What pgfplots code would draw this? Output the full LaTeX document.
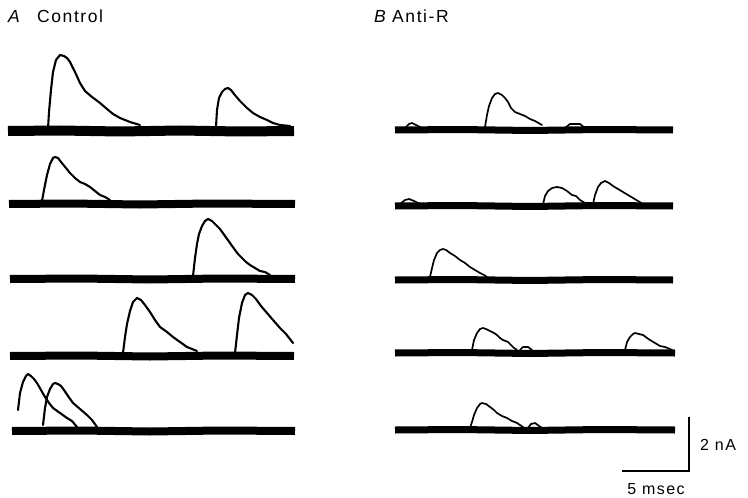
\documentclass[border=0pt]{standalone}
\usepackage{pgfplots}
\pgfplotsset{compat=1.18}
\usepackage{fontspec}
\setmainfont{Liberation Sans}
\newfontfamily\lab{Liberation Sans}[LetterSpace=9]
\newfontfamily\labit{Liberation Sans}[LetterSpace=9,UprightFont=* Italic]
\begin{document}
\begin{tikzpicture}
\begin{axis}[width=748bp,height=498bp,scale only axis,
  xmin=0,xmax=748,ymin=0,ymax=498,y dir=reverse,hide axis,clip=false,
  base/.style={black,line width=8bp,line cap=butt,no marks},
  baseR/.style={black,line width=7bp,line cap=butt,no marks},
  ep/.style={black,line width=2.1bp,line join=round,line cap=round,no marks},
  epR/.style={black,line width=1.7bp,line join=round,line cap=round,no marks}]
\path (axis cs:0,0) rectangle (axis cs:748,498);
% ---------- Panel A ----------
\addplot[base,line width=10bp] coordinates {(8,131) (60,130.5) (120,131.5) (180,130.5) (240,131.5) (294,131)};
\addplot[ep] coordinates {(48,129) (49,112) (51,90) (53,72) (56,60) (60,55) (64,56) (67,58) (70,62) (75,72) (80,83) (85,91) (92,97) (100,103) (107,109) (113,114) (120,118) (130,122) (140,125)};
\addplot[ep] coordinates {(216,127) (217,110) (219,98) (222,92) (225,89) (228,88) (231,90) (234,94) (240,101) (247,108) (253,113) (260,117) (267,120) (273,123) (280,125) (290,126)};
\addplot[base] coordinates {(9,204) (70,203.5) (140,204.5) (210,203.5) (295,204)};
\addplot[ep] coordinates {(42,201) (44,190) (47,175) (50,164) (53,158) (55,157) (58,158) (61,162) (66,168) (70,173) (75,178) (80,182) (85,184) (90,187) (95,191) (100,195) (105,197) (110,200)};
\addplot[base] coordinates {(10,279) (80,278.5) (150,279.5) (220,278.5) (295,279)};
\addplot[ep] coordinates {(193,276) (195,258) (197,244) (199,234) (202,226) (205,221) (208,219) (212,221) (216,225) (220,229) (225,236) (230,243) (235,250) (238,254) (242,258) (246,262) (250,265) (255,268) (260,271) (265,272) (270,275)};
\addplot[base] coordinates {(10,356) (80,355.5) (150,356.5) (220,355.5) (294,356)};
\addplot[ep] coordinates {(123,353) (125,337) (127,324) (130,311) (133,302) (137,298) (141,300) (145,305) (150,312) (155,320) (160,327) (167,332) (173,337) (180,342) (187,347) (197,351)};
\addplot[ep] coordinates {(235,353) (237,335) (239,318) (242,303) (245,295) (248,293) (252,295) (256,299) (261,306) (267,313) (273,320) (280,328) (286,334) (293,343)};
\addplot[base] coordinates {(12,431) (80,430.5) (150,431.5) (220,430.5) (295,431)};
\addplot[ep] coordinates {(18,410) (20,393) (23,382) (26,376) (28,374) (31,376) (34,379) (37,383) (41,390) (45,397) (49,403) (53,408) (60,413) (67,418) (72,421) (77,427)};
\addplot[ep] coordinates {(43,425) (45,408) (47,397) (50,389) (53,384) (55,383) (58,384) (61,386) (64,390) (68,396) (73,403) (80,409) (87,415) (92,420) (97,427)};
% ---------- Panel B ----------
\addplot[baseR] coordinates {(395,130) (460,129.5) (530,130.5) (600,129.5) (673,130)};
\addplot[epR] coordinates {(405,128) (409,124) (412,123) (416,125) (422,128)};
\addplot[epR] coordinates {(485,127) (487,115) (489,106) (492,98) (495,94) (498,93) (502,95) (505,98) (508,102) (511,108) (515,112) (520,114) (525,116) (530,119) (535,121) (542,125)};
\addplot[epR] coordinates {(565,128) (570,124) (580,124) (585,128)};
\addplot[baseR] coordinates {(395,206) (460,205.5) (530,206.5) (600,205.5) (673,206)};
\addplot[epR] coordinates {(400,204) (405,200) (409,199) (414,201) (420,204)};
\addplot[epR] coordinates {(543,204) (545,196) (548,191) (552,188) (557,187) (562,188) (567,191) (572,195) (576,196) (580,200) (585,203)};
\addplot[epR] coordinates {(593,204) (595,195) (598,187) (601,183) (605,181) (609,183) (613,186) (618,189) (623,192) (628,195) (633,198) (638,201) (643,204)};
\addplot[baseR] coordinates {(395,280) (460,279.5) (530,280.5) (600,279.5) (673,280)};
\addplot[epR] coordinates {(430,277) (432,268) (434,260) (437,253) (440,250) (443,249) (446,250) (450,253) (455,256) (460,260) (465,263) (470,267) (475,270) (480,273) (484,275) (487,277)};
\addplot[baseR] coordinates {(395,353) (460,352.5) (530,353.5) (600,352.5) (675,353)};
\addplot[epR] coordinates {(472,350) (474,340) (477,333) (480,329) (483,328) (486,329) (490,331) (494,333) (497,335) (500,338) (503,340) (508,342) (511,345) (514,348) (517,350)};
\addplot[epR] coordinates {(520,350) (523,347) (528,347) (532,350)};
\addplot[epR] coordinates {(625,350) (627,342) (630,337) (633,334) (635,333) (639,334) (643,335) (647,338) (650,340) (655,343) (660,346) (665,347) (670,349) (673,351)};
\addplot[baseR] coordinates {(395,430) (460,429.5) (530,430.5) (600,429.5) (675,430)};
\addplot[epR] coordinates {(470,428) (472,422) (474,415) (477,408) (480,404) (482,403) (486,404) (490,407) (494,410) (497,413) (502,416) (507,418) (512,421) (517,423) (523,427)};
\addplot[epR] coordinates {(528,428) (531,424) (535,423) (539,426) (542,428)};
% ---------- Scale bar ----------
\addplot[black,line width=1.8bp,no marks,line join=miter] coordinates {(689,417) (689,471) (622,471)};
% ---------- Labels ----------
\node[anchor=west,inner sep=0pt] at (axis cs:8,16) {\fontsize{17.5bp}{20bp}\labit A};
\node[anchor=west,inner sep=0pt] at (axis cs:37,16) {\fontsize{17.5bp}{20bp}\lab Control};
\node[anchor=west,inner sep=0pt] at (axis cs:374,16) {\fontsize{17.5bp}{20bp}\labit B};
\node[anchor=west,inner sep=0pt] at (axis cs:392,16) {\fontsize{17.5bp}{20bp}\lab Anti-R};
\node[anchor=west,inner sep=0pt] at (axis cs:700,445) {\fontsize{16bp}{18bp}\lab 2 nA};
\node[anchor=center,inner sep=0pt] at (axis cs:656,489) {\fontsize{16bp}{18bp}\lab 5 msec};
\end{axis}
\end{tikzpicture}
\end{document}
